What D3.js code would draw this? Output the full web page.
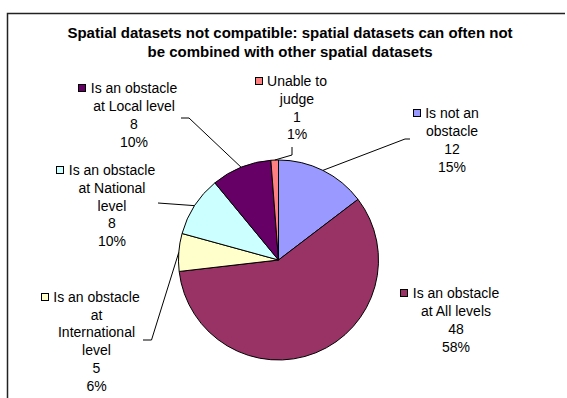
<!DOCTYPE html>
<html>
<head>
<meta charset="utf-8">
<script src="https://cdn.jsdelivr.net/npm/d3@7/dist/d3.min.js"></script>
<style>
  html, body { margin: 0; padding: 0; background: #fff; }
  svg { display: block; }
  text { font-family: "Liberation Sans", Arial, sans-serif; fill: #000; }
</style>
</head>
<body>
<svg id="chart" width="567" height="398"></svg>
<script>
// Survey answers, in the order the slices run clockwise from 12 o'clock
const categories = [
  "Is not an obstacle",
  "Is an obstacle at All levels",
  "Is an obstacle at International level",
  "Is an obstacle at National level",
  "Is an obstacle at Local level",
  "Unable to judge"
];
const counts = [12, 48, 5, 8, 8, 1];
const percentLabels = ["15%", "58%", "6%", "10%", "10%", "1%"];
// How each category name wraps inside its data label
const nameLines = [
  ["Is not an", "obstacle"],
  ["Is an obstacle", "at All levels"],
  ["Is an obstacle", "at", "International", "level"],
  ["Is an obstacle", "at National", "level"],
  ["Is an obstacle", "at Local level"],
  ["Unable to", "judge"]
];
const colors = ["#9999FF", "#993366", "#FFFFCC", "#CCFFFF", "#660066", "#FF8080"];
const titleLines = [
  "Spatial datasets not compatible: spatial datasets can often not",
  "be combined with other spatial datasets"
];

// Label placement: text centre, first baseline, and the leader line's label-side points
const labelLayout = [
  { cx: 452, y: 118.3, leader: [[410, 139], [405, 139]] },
  { cx: 456, y: 298.3, leader: null },
  { cx: 96.5, y: 301.7, leader: [[143, 340], [151.5, 340]] },
  { cx: 112, y: 175, leader: [[158, 203]] },
  { cx: 134, y: 93.3, leader: [[181, 118], [189, 118]] },
  { cx: 297, y: 86, leader: [[292, 147], [292, 155]] }
];

const W = 567, H = 398;
const cx = 278.5, cy = 260, R = 100;
const lineH = 17.8;

const svg = d3.select("#chart");

// Chart area frame (runs past the right and bottom of the view)
svg.append("path")
  .attr("d", "M565,13.5H7.5V400")
  .attr("fill", "none")
  .attr("stroke", "#222")
  .attr("stroke-width", 1.5);

// Title
svg.append("g").selectAll("text").data(titleLines).join("text")
  .attr("x", 290)
  .attr("y", (d, i) => 38.3 + i * 18.4)
  .attr("text-anchor", "middle")
  .attr("font-size", 15)
  .attr("font-weight", "bold")
  .text(d => d);

const pie = d3.pie().sort(null).value(d => d).startAngle(0).endAngle(2 * Math.PI);
const arcs = pie(counts);
const arc = d3.arc().innerRadius(0).outerRadius(R);
const edge = d3.arc().innerRadius(R).outerRadius(R);

const g = svg.append("g").attr("transform", `translate(${cx},${cy})`);
g.selectAll("path").data(arcs).join("path")
  .attr("d", arc)
  .attr("fill", (d, i) => colors[i])
  .attr("stroke", "#000")
  .attr("stroke-width", 1)
  .attr("stroke-linejoin", "round");

// Leader lines from each label to the middle of its slice's rim
const line = d3.line();
arcs.forEach((d, i) => {
  const lay = labelLayout[i];
  if (!lay.leader) return;
  const [ex, ey] = edge.centroid(d);
  const pts = lay.leader.concat([[cx + ex, cy + ey]]);
  svg.append("path")
    .attr("d", line(pts))
    .attr("fill", "none")
    .attr("stroke", "#000")
    .attr("stroke-width", 1);
});

// Data labels: name lines, count, percentage, with a colour key before the first line
arcs.forEach((d, i) => {
  const lay = labelLayout[i];
  const lines = nameLines[i].concat([String(counts[i]), percentLabels[i]]);
  const lg = svg.append("g");
  const texts = lg.selectAll("text").data(lines).join("text")
    .attr("x", lay.cx)
    .attr("y", (t, k) => lay.y + k * lineH)
    .attr("text-anchor", "middle")
    .attr("font-size", 14)
    .text(t => t);
  const w0 = texts.nodes()[0].getComputedTextLength();
  const left = lay.cx - w0 / 2;
  lg.append("rect")
    .attr("x", Math.round(left - 5.5 - 7) + 0.5)
    .attr("y", Math.round(lay.y - 9) + 0.5)
    .attr("width", 7)
    .attr("height", 7)
    .attr("fill", colors[i])
    .attr("stroke", "#000")
    .attr("stroke-width", 1);
});
</script>
</body>
</html>
